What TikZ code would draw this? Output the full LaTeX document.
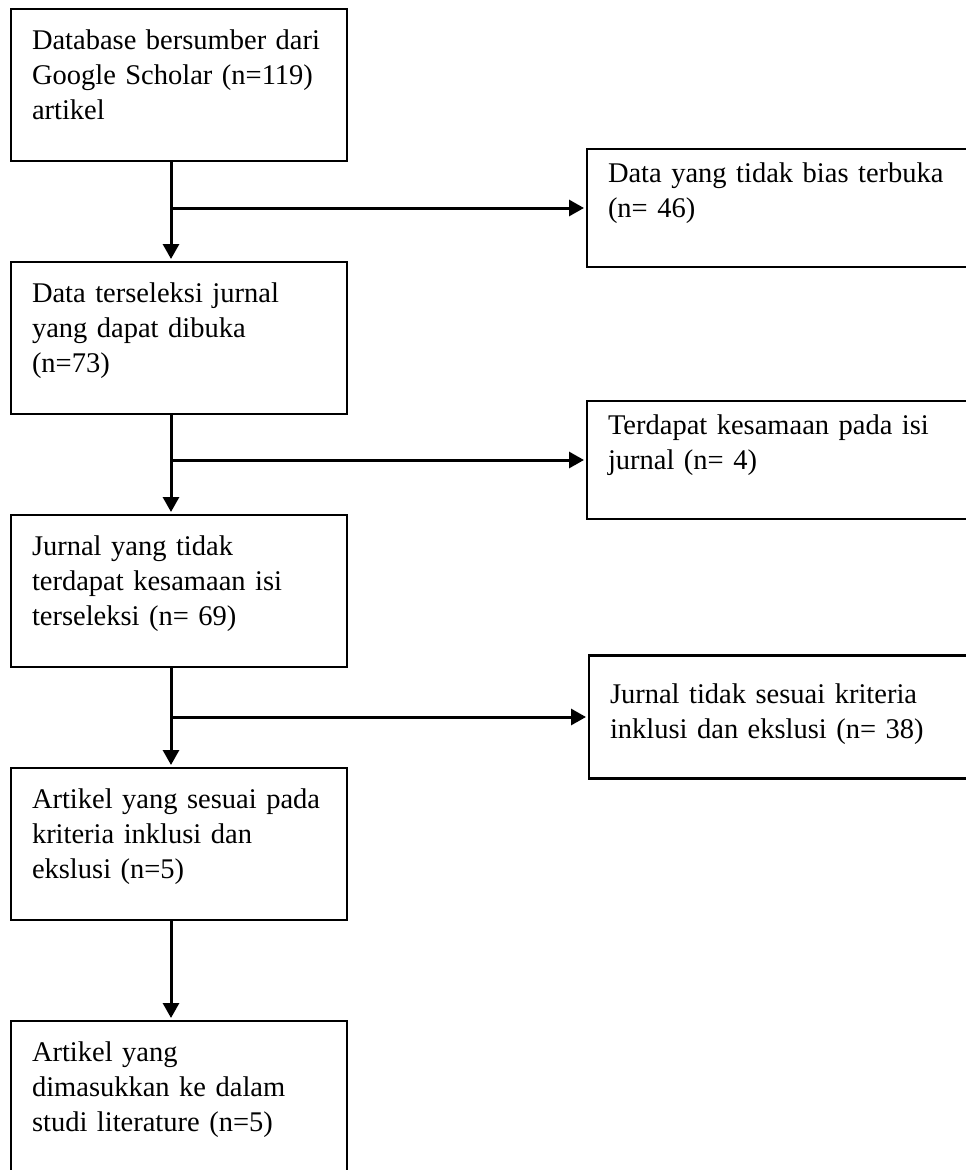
\documentclass[tikz,border=0pt]{standalone}
\usepackage{fontspec}
\setmainfont{Liberation Serif}
\usetikzlibrary{positioning,arrows.meta}

\tikzset{
  kotak/.style={draw, line width=2.5pt, outer sep=0pt, text width=294pt, align=left,
    inner xsep=21pt, inner ysep=0pt, text height=40pt, text depth=112pt,
    font=\fontsize{28.5}{35}\selectfont},
  kotakkanan/.style={kotak, text width=350pt, text height=33pt, text depth=85pt},
  panah/.style={-{Triangle[length=15pt,width=16pt]}, line width=3pt, shorten >=3pt},
}

\begin{document}
\begin{tikzpicture}[node distance=101pt]
  \useasboundingbox (0,0) rectangle (966pt,-1170pt);
  \node [kotak, anchor=north west] (db) at (11pt,-9pt) {Database bersumber dari\\Google Scholar (n=119)\\artikel};
  \node [kotak, below=of db] (terseleksi) {Data terseleksi jurnal\\yang dapat dibuka\\(n=73)};
  \node [kotak, below=of terseleksi] (tidaksama) {Jurnal yang tidak\\terdapat kesamaan isi\\terseleksi (n= 69)};
  \node [kotak, below=of tidaksama] (sesuai) {Artikel yang sesuai pada\\kriteria inklusi dan\\ekslusi (n=5)};
  \node [kotak, below=of sesuai] (dimasukkan) {Artikel yang\\dimasukkan ke dalam\\studi literature (n=5)};

  \coordinate (cab1) at ([xshift=-8pt,yshift=-47pt]db.south);
  \coordinate (cab2) at ([xshift=-8pt,yshift=-46pt]terseleksi.south);
  \coordinate (cab3) at ([xshift=-8pt,yshift=-50pt]tidaksama.south);

  \node [kotakkanan, right=416pt of cab1] (bias) {Data yang tidak bias terbuka\\(n= 46)};
  \node [kotakkanan, right=416pt of cab2] (kesamaan) {Terdapat kesamaan pada isi\\jurnal (n= 4)};
  \node [kotakkanan, text height=48pt, text depth=75pt, right=418pt of cab3] (kriteria) {Jurnal tidak sesuai kriteria\\inklusi dan ekslusi (n= 38)};

  \draw [panah] ([xshift=-8pt]db.south) -- ([xshift=-8pt]terseleksi.north);
  \draw [panah] ([xshift=-8pt]terseleksi.south) -- ([xshift=-8pt]tidaksama.north);
  \draw [panah] ([xshift=-8pt]tidaksama.south) -- ([xshift=-8pt]sesuai.north);
  \draw [panah] ([xshift=-8pt]sesuai.south) -- ([xshift=-8pt]dimasukkan.north);
  \draw [panah] (cab1) -- (bias.west);
  \draw [panah] (cab2) -- (kesamaan.west);
  \draw [panah] (cab3) -- (kriteria.west);
\end{tikzpicture}
\end{document}
